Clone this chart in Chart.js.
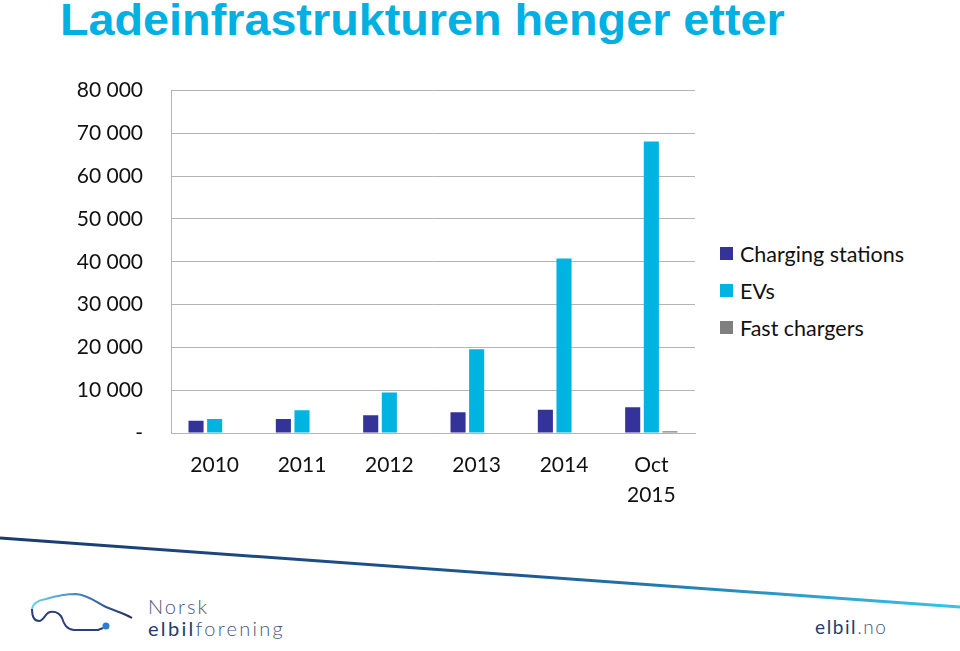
<!DOCTYPE html>
<html>
<head>
<meta charset="utf-8">
<script src="https://cdn.jsdelivr.net/npm/chart.js@4.4.0/dist/chart.umd.min.js"></script>
<style>
  html, body { margin: 0; padding: 0; background: #fff; }
  body { width: 960px; height: 651px; position: relative; overflow: hidden; }
  #title {
    position: absolute; left: 60px; top: -6px; margin: 0;
    font-family: "Liberation Sans", Arial, sans-serif; font-weight: bold;
    font-size: 45px; color: #00b0e2; white-space: nowrap;
    transform-origin: 0 0;
  }
  #chartBox { position: absolute; left: 0; top: 50px; width: 700px; height: 470px; }
  #legend { position: absolute; left: 720px; top: 235px; font-family: Lato, sans-serif; font-size: 21.5px; color: #111; }
  #legend div { height: 37px; display: flex; align-items: center; margin-top: -8px; padding-top: 8px; }
  #legend span.box { width: 13px; height: 13px; display: inline-block; margin-right: 7px; }
  #footer { position: absolute; left: 0; top: 520px; }
  .logo { position: absolute; font-family: Lato, sans-serif; color: #46587a; white-space: nowrap; }
  .logo b { color: #1d3d6e; }
</style>
</head>
<body>
<div id="title">Ladeinfrastrukturen henger etter</div>
<div id="chartBox"><canvas id="myChart"></canvas></div>
<div id="legend"></div>

<svg id="footer" width="960" height="131">
  <defs>
    <linearGradient id="lineGrad" x1="0" y1="0" x2="1" y2="0">
      <stop offset="0" stop-color="#1b3a6e"/>
      <stop offset="0.55" stop-color="#1d5a92"/>
      <stop offset="1" stop-color="#35c6ea"/>
    </linearGradient>
    <linearGradient id="carGrad" x1="0" y1="0" x2="1" y2="0">
      <stop offset="0" stop-color="#6fcdec"/>
      <stop offset="0.5" stop-color="#3f7fbf"/>
      <stop offset="1" stop-color="#262a66"/>
    </linearGradient>
  </defs>
  <line x1="0" y1="18" x2="960" y2="87" stroke="url(#lineGrad)" stroke-width="3"/>
  <path d="M32 89 C 33 82, 40 80, 46 79 C 56 76, 66 74, 76 74 C 88 75, 96 82, 104 86 C 112 90, 124 93, 132 98"
        fill="none" stroke="url(#carGrad)" stroke-width="2"/>
  <path d="M32 89 C 32 96, 34 101, 39 101 C 44 101, 45 93, 50 92 C 56 91, 60 94, 62 98 C 64 104, 66 109, 74 110 L 98 110 L 103 108"
        fill="none" stroke="#2d3f7a" stroke-width="2"/>
  <circle cx="106" cy="106" r="3.5" fill="#2a7fd0"/>
</svg>
<div class="logo" style="left:148px; top:594px; font-size:20px; letter-spacing:2px; font-weight:300;">Norsk</div>
<div class="logo" style="left:148px; top:616px; font-size:20px; letter-spacing:2.3px; font-weight:300;"><b>elbil</b>forening</div>
<div class="logo" style="left:815px; top:615px; font-size:19px; letter-spacing:1.6px; font-weight:300;"><b>elbil</b>.no</div>

<script>
// chart data
const years = ['2010', '2011', '2012', '2013', '2014', ['Oct', '2015']];
const chargingStations = [2870, 3270, 4120, 4820, 5440, 5990];
const evs = [3270, 5290, 9490, 19580, 40800, 68130];
const fastChargers = [0, 0, 0, 0, 100, 400];
const seriesNames = ['Charging stations', 'EVs', 'Fast chargers'];
const seriesColors = ['#33339a', '#00b4e2', '#7f7f7f'];

// squeeze the title to the width it has in the picture
const title = document.getElementById('title');
title.style.transform = 'scaleX(' + (725 / title.scrollWidth) + ')';

function formatTick(v) {
  if (v === 0) return '-';
  return String(v).replace(/\B(?=(\d{3})+(?!\d))/g, ' ');
}

const ctx = document.getElementById('myChart').getContext('2d');
new Chart(ctx, {
  type: 'bar',
  data: {
    labels: years,
    datasets: [chargingStations, evs, fastChargers].map((d, i) => ({
      label: seriesNames[i],
      data: d,
      backgroundColor: seriesColors[i],
      categoryPercentage: 0.64,
      barPercentage: 0.81
    }))
  },
  options: {
    responsive: true,
    maintainAspectRatio: false,
    animation: false,
    layout: { padding: { left: 0, top: 0, right: 5, bottom: 0 } },
    plugins: { legend: { display: false }, tooltip: { enabled: false } },
    scales: {
      x: {
        grid: { display: false },
        border: { display: true, color: '#b4b4b4', width: 1 },
        ticks: {
          color: '#111',
          padding: 10,
          maxRotation: 0,
          font: { family: 'Lato', size: 21, lineHeight: 1.4 }
        },
        afterFit: s => { s.height = 87; }
      },
      y: {
        min: 0,
        max: 80000,
        grid: { color: '#b4b4b4', lineWidth: 1, drawTicks: false },
        border: { display: true, color: '#b4b4b4', width: 1 },
        ticks: {
          stepSize: 10000,
          padding: 28,
          color: '#111',
          font: { family: 'Lato', size: 21 },
          callback: v => formatTick(v)
        },
        afterFit: s => { s.width = 171; }
      }
    }
  }
});

// legend
const legend = document.getElementById('legend');
seriesNames.forEach((n, i) => {
  const row = document.createElement('div');
  row.innerHTML = '<span class="box" style="background:' + seriesColors[i] + '"></span>' + n;
  legend.appendChild(row);
});
</script>
</body>
</html>
